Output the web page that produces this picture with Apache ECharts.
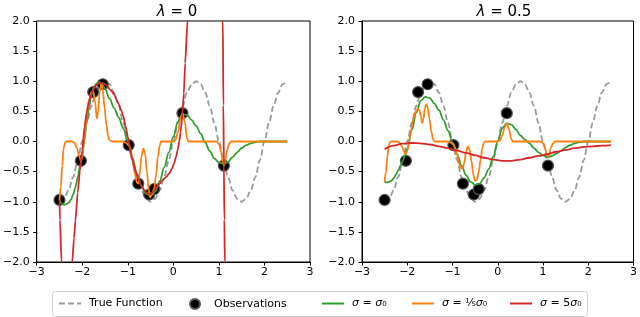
<!DOCTYPE html>
<html><head><meta charset="utf-8">
<script src="https://cdn.jsdelivr.net/npm/echarts@6/dist/echarts.min.js"></script>
<style>html,body{margin:0;padding:0;background:#fff}#c{width:640px;height:317px}</style>
</head><body><div id="c"></div>
<script>
// ---- data ----
const titles = ['0', '0.5'];
const obsX = [-2.5, -2.03, -1.76, -1.55, -0.98, -0.77, -0.53, -0.42, 0.2, 1.11];
const obsY = [-0.97, -0.32, 0.82, 0.95, -0.06, -0.70, -0.88, -0.79, 0.47, -0.40];

const trueX = [-2.5,-2.4,-2.3,-2.2,-2.1,-2.0,-1.9,-1.8,-1.7,-1.6,-1.5,-1.4,-1.3,-1.2,-1.1,-1.0,-0.9,-0.8,-0.7,-0.6,-0.5,-0.4,-0.3,-0.2,-0.1,0,0.1,0.2,0.3,0.4,0.5,0.6,0.7,0.8,0.9,1.0,1.1,1.2,1.3,1.4,1.5,1.6,1.7,1.8,1.9,2.0,2.1,2.2,2.3,2.4,2.5];
const trueY = [-1,-0.95,-0.81,-0.59,-0.31,0,0.31,0.59,0.81,0.95,1,0.95,0.81,0.59,0.31,0,-0.31,-0.59,-0.81,-0.95,-1,-0.95,-0.81,-0.59,-0.31,0,0.31,0.59,0.81,0.95,1,0.95,0.81,0.59,0.31,0,-0.31,-0.59,-0.81,-0.95,-1,-0.95,-0.81,-0.59,-0.31,0,0.31,0.59,0.81,0.95,1];

// lambda = 0
const lgX = [-2.5,-2.45,-2.4,-2.35,-2.3,-2.25,-2.2,-2.15,-2.1,-2.05,-2.0,-1.95,-1.9,-1.85,-1.8,-1.75,-1.7,-1.65,-1.6,-1.55,-1.5,-1.4,-1.3,-1.2,-1.1,-1.0,-0.9,-0.8,-0.7,-0.6,-0.5,-0.4,-0.3,-0.2,-0.1,0.0,0.1,0.2,0.3,0.4,0.5,0.6,0.7,0.8,0.9,1.0,1.1,1.2,1.3,1.4,1.5,1.6,1.7,1.8,1.9,2.0,2.5];
const lgY = [-0.97,-1.03,-1.05,-1.04,-1.02,-0.97,-0.88,-0.76,-0.6,-0.41,-0.2,0.04,0.33,0.58,0.77,0.89,0.95,0.98,0.98,0.94,0.87,0.71,0.55,0.4,0.22,0.0,-0.27,-0.53,-0.74,-0.87,-0.9,-0.83,-0.66,-0.43,-0.18,0.08,0.33,0.45,0.44,0.36,0.26,0.13,-0.02,-0.16,-0.28,-0.35,-0.37,-0.34,-0.26,-0.18,-0.11,-0.06,-0.03,-0.01,0,0,0];

const loX = [-2.5,-2.47,-2.44,-2.41,-2.38,-2.35,-2.22,-2.17,-2.12,-2.07,-2.03,-2.0,-1.97,-1.93,-1.89,-1.85,-1.8,-1.76,-1.72,-1.68,-1.65,-1.62,-1.58,-1.55,-1.51,-1.47,-1.43,-1.4,-1.35,-1.1,-1.05,-0.98,-0.94,-0.9,-0.85,-0.8,-0.77,-0.74,-0.7,-0.66,-0.62,-0.58,-0.54,-0.51,-0.47,-0.42,-0.38,-0.34,-0.3,-0.27,0.0,0.05,0.1,0.15,0.2,0.25,0.3,0.33,0.95,1.0,1.05,1.08,1.11,1.14,1.17,1.22,1.27,2.5];
const loY = [-0.97,-0.75,-0.4,-0.12,-0.02,0,0,-0.02,-0.1,-0.24,-0.33,-0.27,-0.08,0.22,0.5,0.7,0.82,0.83,0.67,0.38,0.5,0.82,0.96,0.86,0.56,0.27,0.08,0.02,0,0,-0.02,-0.06,-0.12,-0.3,-0.52,-0.68,-0.7,-0.55,-0.25,-0.12,-0.2,-0.5,-0.82,-0.93,-0.88,-0.78,-0.55,-0.25,-0.07,0,0,0.03,0.15,0.36,0.47,0.33,0.05,0,0,-0.04,-0.17,-0.32,-0.4,-0.32,-0.17,-0.04,0,0];

const lrX = [-2.5,-2.49,-2.455,-2.42,-2.35,-2.28,-2.22,-2.18,-2.15,-2.1,-2.05,-2.0,-1.95,-1.9,-1.85,-1.8,-1.75,-1.7,-1.65,-1.6,-1.55,-1.5,-1.45,-1.4,-1.35,-1.3,-1.25,-1.2,-1.15,-1.1,-1.05,-1.0,-0.95,-0.9,-0.85,-0.8,-0.7,-0.6,-0.5,-0.42,-0.35,-0.3,-0.24,-0.16,-0.09,-0.03,0.02,0.06,0.09,0.13,0.16,0.2,0.23,0.26,0.31,0.36,0.5,0.7,0.9,1.0,1.06,1.087,1.098,1.11,1.12,1.13,1.16,1.25];
const lrY = [-0.97,-1.3,-2.0,-2.8,-3.4,-2.9,-2.0,-1.6,-1.31,-0.85,-0.48,-0.15,0.25,0.5,0.67,0.79,0.87,0.93,0.96,0.97,0.97,0.95,0.92,0.87,0.83,0.78,0.7,0.62,0.53,0.42,0.26,0.08,-0.12,-0.3,-0.44,-0.56,-0.74,-0.85,-0.88,-0.81,-0.74,-0.7,-0.645,-0.59,-0.53,-0.45,-0.36,-0.25,-0.15,0.0,0.16,0.47,0.8,1.3,2.0,2.8,4.5,6,5,4,2.8,2.0,0.6,-0.4,-1.3,-2.0,-3,-4];

// lambda = 0.5
const rgX = [-2.5,-2.45,-2.4,-2.35,-2.3,-2.25,-2.2,-2.15,-2.1,-2.05,-2.0,-1.9,-1.8,-1.7,-1.6,-1.5,-1.4,-1.3,-1.2,-1.1,-1.0,-0.9,-0.8,-0.7,-0.6,-0.5,-0.4,-0.3,-0.2,-0.1,0.0,0.1,0.2,0.3,0.4,0.5,0.6,0.7,0.8,0.9,1.0,1.1,1.2,1.3,1.4,1.5,1.6,1.7,1.8,1.9,2.5];
const rgY = [-0.67,-0.68,-0.67,-0.65,-0.61,-0.55,-0.48,-0.4,-0.32,-0.23,-0.12,0.19,0.48,0.68,0.74,0.72,0.63,0.52,0.36,0.18,-0.01,-0.21,-0.4,-0.56,-0.67,-0.72,-0.7,-0.6,-0.46,-0.25,0.0,0.22,0.3,0.28,0.2,0.1,0.03,-0.03,-0.11,-0.18,-0.23,-0.26,-0.24,-0.2,-0.15,-0.1,-0.06,-0.03,-0.01,0,0];

const roX = [-2.5,-2.47,-2.44,-2.41,-2.38,-2.35,-2.22,-2.17,-2.12,-2.07,-2.03,-2.0,-1.96,-1.92,-1.87,-1.82,-1.77,-1.73,-1.7,-1.67,-1.64,-1.61,-1.58,-1.55,-1.51,-1.47,-1.43,-1.39,-1.1,-1.03,-0.98,-0.94,-0.9,-0.85,-0.8,-0.77,-0.74,-0.7,-0.66,-0.62,-0.58,-0.54,-0.5,-0.46,-0.42,-0.38,-0.34,-0.3,-0.27,0.0,0.05,0.1,0.15,0.2,0.25,0.3,0.33,0.95,1.0,1.05,1.08,1.11,1.14,1.17,1.22,1.27,2.5];
const roY = [-0.67,-0.5,-0.25,-0.07,-0.01,0,0,-0.02,-0.08,-0.17,-0.21,-0.16,-0.02,0.17,0.37,0.49,0.54,0.52,0.42,0.31,0.38,0.55,0.62,0.57,0.38,0.17,0.04,0,0,-0.02,-0.05,-0.1,-0.22,-0.38,-0.45,-0.44,-0.35,-0.17,-0.08,-0.14,-0.33,-0.55,-0.65,-0.64,-0.5,-0.3,-0.1,-0.01,0,0,0.02,0.1,0.23,0.3,0.2,0.04,0,0,-0.03,-0.12,-0.2,-0.25,-0.2,-0.11,-0.03,0,0];

const rrX = [-2.5,-2.3,-2.1,-1.9,-1.7,-1.5,-1.3,-1.1,-0.9,-0.7,-0.5,-0.3,-0.1,0.1,0.3,0.5,0.7,0.9,1.1,1.3,1.5,1.7,1.9,2.1,2.3,2.5];
const rrY = [-0.13,-0.07,-0.035,-0.025,-0.03,-0.05,-0.08,-0.11,-0.15,-0.19,-0.23,-0.27,-0.3,-0.32,-0.32,-0.3,-0.27,-0.24,-0.21,-0.17,-0.14,-0.11,-0.09,-0.08,-0.07,-0.06];

const xTicks = {min: -3, max: 3, interval: 1};
const yTicks = {min: -2, max: 2, interval: 0.5};

const names = ['True Function', 'Observations', 'g', 'o', 'r'];
const legendText = {
  'True Function': 'True Function',
  'Observations': 'Observations',
  'g': '{i|σ} = {i|σ}₀',
  'o': '{i|σ} = ⅕{i|σ}₀',
  'r': '{i|σ} = 5{i|σ}₀'
};
// ---- styling ----
const C = {g: '#2ca02c', o: '#ff7f0e', r: '#d62728', t: '#999999'};
const pairs = (xs, ys) => xs.map((x, i) => [x, ys[i]]);
const minus = s => String(s).replace('-', '\u2212');
const font = 'DejaVu Sans';
const LW = 1.8;

const grids = [
  {left: 35, top: 21, width: 275, height: 241, show: true, borderColor: '#000', borderWidth: 1, backgroundColor: 'transparent'},
  {left: 362, top: 21, width: 275, height: 241, show: true, borderColor: '#000', borderWidth: 1, backgroundColor: 'transparent'}
];
function xa(i) {
  return {type: 'value', gridIndex: i, min: xTicks.min, max: xTicks.max, interval: xTicks.interval,
    axisLine: {show: true, onZero: false, lineStyle: {color: '#000', width: 1}},
    axisTick: {show: true, length: 3.5, lineStyle: {color: '#000'}},
    splitLine: {show: false},
    axisLabel: {color: '#000', fontSize: 11, fontFamily: font, margin: 5, formatter: v => minus(v)}};
}
function ya(i) {
  return {type: 'value', gridIndex: i, min: yTicks.min, max: yTicks.max, interval: yTicks.interval,
    axisLine: {show: true, onZero: false, lineStyle: {color: '#000', width: 1}},
    axisTick: {show: true, length: 3.5, lineStyle: {color: '#000'}},
    splitLine: {show: false},
    axisLabel: {color: '#000', fontSize: 11, fontFamily: font, margin: 7, formatter: v => minus(v.toFixed(1))}};
}
function line(name, i, xs, ys, color, extra) {
  return Object.assign({name: name, type: 'line', xAxisIndex: i, yAxisIndex: i, data: pairs(xs, ys),
    showSymbol: false, symbol: 'none', smooth: 0.35, smoothMonotone: 'x', clip: true,
    lineStyle: {color: color, width: LW}, itemStyle: {color: color}, animation: false, z: 3}, extra || {});
}
function obs(i) {
  return {name: 'Observations', type: 'scatter', xAxisIndex: i, yAxisIndex: i, data: pairs(obsX, obsY),
    symbol: 'circle', symbolSize: 11, itemStyle: {color: '#000', borderColor: '#555', borderWidth: 1.2, opacity: 1},
    animation: false, z: 2};
}
const series = [];
[[lgY, loY, lrY, lgX, loX, lrX], [rgY, roY, rrY, rgX, roX, rrX]].forEach((d, i) => {
  series.push(line('True Function', i, trueX, trueY, C.t, {lineStyle: {color: C.t, width: LW, type: [6, 3]}, z: 1}));
  series.push(obs(i));
  series.push(line('g', i, d[3], d[0], C.g));
  series.push(line('o', i, d[4], d[1], C.o));
  series.push(line('r', i, d[5], d[2], C.r, i === 0 ? {smooth: 0.2} : {}));
});

const legendLeft = [58, 189, 321, 411, 509];
const legends = names.map((n, k) => ({
  data: [n], left: legendLeft[k], top: 298, itemWidth: 22, itemHeight: 10, itemGap: 0,
  selectedMode: false, padding: 0,
  itemStyle: n === 'Observations' ? {} : {opacity: 0},
  formatter: nm => legendText[nm],
  textStyle: {color: '#000', fontSize: 11, fontFamily: font, padding: [0, 0, 0, 3],
    rich: {i: {fontStyle: 'italic', fontSize: 11, fontFamily: font, color: '#000'}}}
}));

const chart = echarts.init(document.getElementById('c'), null, {renderer: 'canvas'});
chart.setOption({
  animation: false,
  backgroundColor: '#fff',
  title: titles.map((t, i) => ({
    text: '{i|λ} = ' + t, left: i === 0 ? 172 : 499, top: 0, textAlign: 'center',
    textStyle: {fontSize: 15, fontWeight: 'normal', fontFamily: font, color: '#000',
      rich: {i: {fontStyle: 'italic', fontSize: 15, fontFamily: font, color: '#000'}}}
  })),
  grid: grids,
  xAxis: [xa(0), xa(1)],
  yAxis: [ya(0), ya(1)],
  legend: legends,
  graphic: [{type: 'rect', left: 52, top: 291, z: -1, shape: {width: 535, height: 25, r: 3},
    style: {fill: '#fff', stroke: '#cccccc', lineWidth: 1}}],
  series: series
});
</script></body></html>
